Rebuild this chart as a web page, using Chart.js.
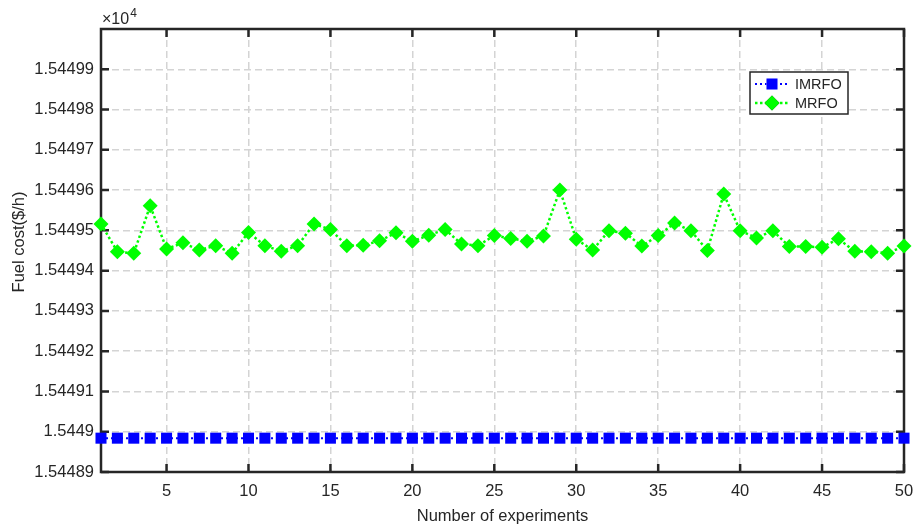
<!DOCTYPE html>
<html>
<head>
<meta charset="utf-8">
<script src="https://cdn.jsdelivr.net/npm/chart.js@4/dist/chart.umd.min.js"></script>
<style>
  html, body { margin: 0; padding: 0; background: #fff; }
  #wrap { width: 915px; height: 526px; position: relative; }
</style>
</head>
<body>
<div id="wrap"><canvas id="c" width="915" height="526"></canvas></div>
<script>
// Fuel cost per run, values in units of 1e4 $/h (the axis shows x10^4)
var experiments = [];
for (var i = 1; i <= 50; i++) experiments.push(i);

var imrfoCost = [
  1.5448984, 1.5448984, 1.5448984, 1.5448984, 1.5448984, 1.5448984, 1.5448984, 1.5448984, 1.5448984, 1.5448984,
  1.5448984, 1.5448984, 1.5448984, 1.5448984, 1.5448984, 1.5448984, 1.5448984, 1.5448984, 1.5448984, 1.5448984,
  1.5448984, 1.5448984, 1.5448984, 1.5448984, 1.5448984, 1.5448984, 1.5448984, 1.5448984, 1.5448984, 1.5448984,
  1.5448984, 1.5448984, 1.5448984, 1.5448984, 1.5448984, 1.5448984, 1.5448984, 1.5448984, 1.5448984, 1.5448984,
  1.5448984, 1.5448984, 1.5448984, 1.5448984, 1.5448984, 1.5448984, 1.5448984, 1.5448984, 1.5448984, 1.5448984
];

var mrfoCost = [
  1.5449516, 1.5449447, 1.5449443, 1.5449561, 1.5449454, 1.5449469, 1.5449451, 1.5449462, 1.5449443, 1.5449495,
  1.5449462, 1.5449448, 1.5449462, 1.5449516, 1.5449502, 1.5449462, 1.5449463, 1.5449474, 1.5449494, 1.5449473,
  1.5449488, 1.5449502, 1.5449466, 1.5449462, 1.5449487, 1.5449480, 1.5449473, 1.5449486, 1.5449600, 1.5449478,
  1.5449451, 1.5449499, 1.5449493, 1.5449461, 1.5449487, 1.5449518, 1.5449499, 1.5449450, 1.5449590, 1.5449499,
  1.5449481, 1.5449499, 1.5449460, 1.5449460, 1.5449458, 1.5449479, 1.5449448, 1.5449447, 1.5449443, 1.5449461
];

var xTicks = [5, 10, 15, 20, 25, 30, 35, 40, 45, 50];
var yTicks = [1.54489, 1.5449, 1.54491, 1.54492, 1.54493, 1.54494, 1.54495, 1.54496, 1.54497, 1.54498, 1.54499];

var AX = '#262626';
var FONT = '"Liberation Sans", Arial, Helvetica, sans-serif';

function yLabel(v) { return Number(v.toFixed(5)).toString(); }

// box + inward ticks, drawn before the data so markers sit on top
var boxPlugin = {
  id: 'box',
  beforeDatasetsDraw: function(chart) {
    var ctx = chart.ctx, a = chart.chartArea;
    var xs = chart.scales.x, ys = chart.scales.y;
    ctx.save();
    ctx.strokeStyle = AX;
    ctx.lineWidth = 2.5;
    ctx.strokeRect(a.left, a.top, a.right - a.left, a.bottom - a.top);
    ctx.beginPath();
    xTicks.forEach(function(v) {
      var px = xs.getPixelForValue(v);
      ctx.moveTo(px, a.bottom); ctx.lineTo(px, a.bottom - 8);
      ctx.moveTo(px, a.top); ctx.lineTo(px, a.top + 8);
    });
    yTicks.forEach(function(v) {
      var py = ys.getPixelForValue(v);
      ctx.moveTo(a.left, py); ctx.lineTo(a.left + 8, py);
      ctx.moveTo(a.right, py); ctx.lineTo(a.right - 8, py);
    });
    ctx.stroke();
    ctx.restore();
  },
  afterDraw: function(chart) {
    var ctx = chart.ctx, a = chart.chartArea;
    ctx.save();
    ctx.fillStyle = AX;

    // y axis title
    ctx.save();
    ctx.translate(19, 242);
    ctx.rotate(-Math.PI / 2);
    ctx.font = '16.5px ' + FONT;
    ctx.textAlign = 'center';
    ctx.textBaseline = 'middle';
    ctx.fillText('Fuel cost($/h)', 0, 0);
    ctx.restore();

    // exponent label
    ctx.textBaseline = 'alphabetic';
    ctx.textAlign = 'left';
    ctx.font = '16px ' + FONT;
    ctx.fillText('\u00d710', a.left + 1, a.top - 5);
    var w = ctx.measureText('\u00d710').width;
    ctx.font = '12px ' + FONT;
    ctx.fillText('4', a.left + 1 + w + 1, a.top - 12);

    // legend
    var lx = 750, ly = 72, lw = 98, lh = 42;
    ctx.fillStyle = '#fff';
    ctx.fillRect(lx, ly, lw, lh);
    ctx.strokeStyle = AX;
    ctx.lineWidth = 1.5;
    ctx.strokeRect(lx, ly, lw, lh);
    var rows = [84, 103];
    chart.data.datasets.forEach(function(ds, i) {
      var y = rows[i];
      ctx.save();
      ctx.strokeStyle = ds.borderColor;
      ctx.lineWidth = ds.borderWidth;
      ctx.setLineDash(ds.borderDash);
      ctx.beginPath();
      ctx.moveTo(lx + 5, y); ctx.lineTo(lx + 40, y);
      ctx.stroke();
      ctx.restore();
      Chart.helpers.drawPoint(ctx, {
        pointStyle: ds.pointStyle, radius: ds.pointRadius, borderWidth: 0, rotation: 0
      }, lx + 22, y);
      ctx.fillStyle = ds.pointBackgroundColor;
      ctx.fill();
      ctx.fillStyle = AX;
      ctx.font = '14.5px ' + FONT;
      ctx.textAlign = 'left';
      ctx.textBaseline = 'middle';
      ctx.fillText(ds.label, lx + 45, y + 1);
    });
    ctx.restore();
  }
};

new Chart(document.getElementById('c'), {
  type: 'line',
  data: {
    datasets: [{
      label: 'IMRFO',
      data: experiments.map(function(x, i) { return { x: x, y: imrfoCost[i] }; }),
      borderColor: '#0000ff',
      borderWidth: 2,
      borderDash: [2, 3],
      pointStyle: 'rect',
      pointRadius: 7.8,
      pointBackgroundColor: '#0000ff',
      pointBorderWidth: 0,
      tension: 0,
      clip: false
    }, {
      label: 'MRFO',
      data: experiments.map(function(x, i) { return { x: x, y: mrfoCost[i] }; }),
      borderColor: '#00ff00',
      borderWidth: 2.5,
      borderDash: [2.5, 2.5],
      pointStyle: 'rectRot',
      pointRadius: 7.5,
      pointBackgroundColor: '#00ff00',
      pointBorderWidth: 0,
      tension: 0,
      clip: false
    }]
  },
  options: {
    responsive: false,
    animation: false,
    layout: { padding: { top: 29, right: 11, left: 0, bottom: 0 } },
    plugins: { legend: { display: false }, tooltip: { enabled: false } },
    scales: {
      x: {
        type: 'linear',
        min: 1, max: 50,
        afterBuildTicks: function(s) { s.ticks = xTicks.map(function(v) { return { value: v }; }); },
        afterFit: function(s) { s.height = 54; s.paddingRight = 0; s.paddingLeft = 0; },
        grid: { color: '#d4d4d4', lineWidth: 1.5, drawTicks: false },
        border: { display: false, dash: [7, 4] },
        ticks: { color: AX, font: { family: FONT, size: 16.5 }, padding: 10, maxRotation: 0 },
        title: { display: true, text: 'Number of experiments', color: AX, font: { family: FONT, size: 16.5 }, padding: { top: 0, bottom: 0 } }
      },
      y: {
        type: 'linear',
        min: 1.54489, max: 1.545,
        afterBuildTicks: function(s) { s.ticks = yTicks.map(function(v) { return { value: v }; }); },
        afterFit: function(s) { s.width = 101; s.paddingTop = 0; s.paddingBottom = 0; },
        grid: { color: '#d4d4d4', lineWidth: 1.5, drawTicks: false },
        border: { display: false, dash: [7, 4] },
        ticks: { color: AX, font: { family: FONT, size: 16.5 }, padding: 7, callback: function(v) { return yLabel(v); } }
      }
    }
  },
  plugins: [boxPlugin]
});
</script>
</body>
</html>
